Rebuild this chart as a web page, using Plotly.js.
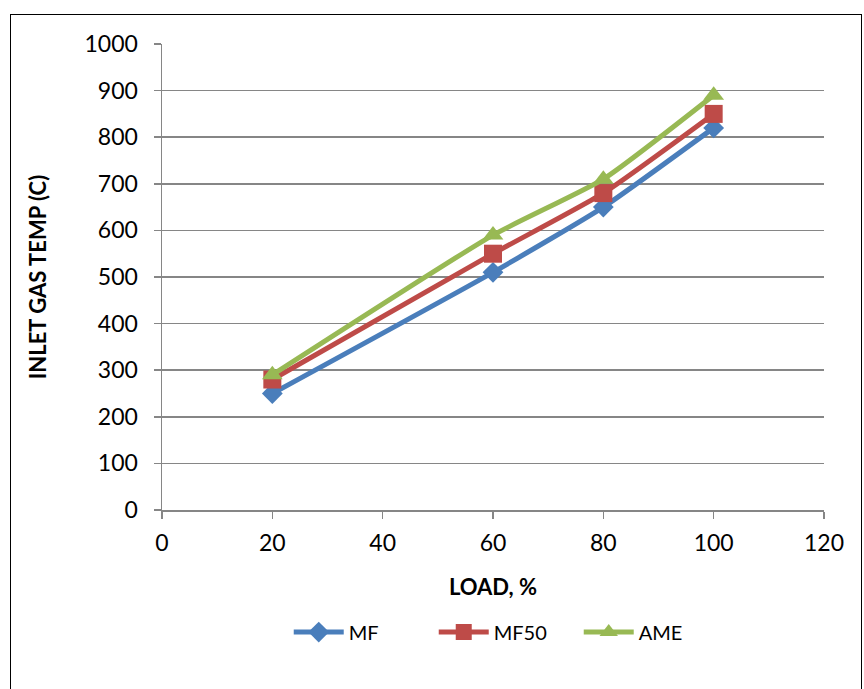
<!DOCTYPE html>
<html>
<head>
<meta charset="utf-8">
<script src="https://cdn.plot.ly/plotly-3.0.1.min.js"></script>
<style>
html,body{margin:0;padding:0;background:#fff;}
#wrap{position:relative;width:864px;height:689px;overflow:hidden;}
#frame{position:absolute;left:10px;top:14px;width:852px;height:700px;border:1px solid #000;box-sizing:border-box;pointer-events:none;}
#chart{position:absolute;left:0;top:0;width:864px;height:689px;}
</style>
</head>
<body>
<div id="wrap">
<div id="chart"></div>
<div id="frame"></div>
</div>
<script>
const load = [20, 60, 80, 100];
const mf = [250, 510, 650, 820];
const mf50 = [280, 550, 680, 850];
const ame = [290, 590, 710, 890];
const seriesNames = ['MF', 'MF50', 'AME'];
const xTicks = [0, 20, 40, 60, 80, 100, 120];
const yTicks = [0, 100, 200, 300, 400, 500, 600, 700, 800, 900, 1000];

const FONT = 'Lato, "Open Sans", "Liberation Sans", sans-serif';
const colors = ['#4A7EBB', '#BE4B48', '#98B954'];
const symbols = ['diamond', 'square', 'triangle-up'];
const sizes = [16, 18, 18];
const data = [mf, mf50, ame].map((ys, i) => ({
  x: load, y: ys, name: seriesNames[i], type: 'scatter', mode: 'lines+markers',
  line: {color: colors[i], width: 5, shape: 'spline', smoothing: 0.5},
  marker: {symbol: symbols[i], size: sizes[i], color: colors[i]}
}));

const layout = {
  width: 864, height: 689,
  margin: {l: 162, r: 40, t: 44, b: 179},
  paper_bgcolor: 'rgba(0,0,0,0)', plot_bgcolor: '#fff',
  font: {family: FONT, color: '#000', size: 23},
  showlegend: true,
  legend: {orientation: 'h', x: 0.52, xanchor: 'center', y: -0.262, yanchor: 'middle',
           font: {family: FONT, size: 20, color: '#000'}, itemwidth: 50,
           entrywidth: 80, entrywidthmode: 'pixels', traceorder: 'normal'},
  xaxis: {
    range: [0, 120], tickvals: xTicks, ticktext: xTicks.map(String),
    showgrid: false, zeroline: false, showline: true, linecolor: '#868686', linewidth: 1.5,
    ticks: 'outside', ticklen: 7, tickcolor: '#868686', tickwidth: 1.5,
    tickfont: {family: FONT, size: 23}, ticklabelstandoff: 5,
    title: {text: '<b>LOAD, %</b>', font: {family: FONT, size: 22}, standoff: 24}
  },
  yaxis: {
    range: [0, 1000], tickvals: yTicks, ticktext: yTicks.map(String),
    showgrid: true, gridcolor: '#868686', gridwidth: 1.5, zeroline: false,
    showline: true, linecolor: '#868686', linewidth: 1.5,
    ticks: 'outside', ticklen: 7, tickcolor: '#868686', tickwidth: 1.5,
    tickfont: {family: FONT, size: 23}, ticklabelstandoff: 11,
    title: {text: '<b>INLET GAS TEMP (C)</b>', font: {family: FONT, size: 22}, standoff: 32}
  }
};
Plotly.newPlot('chart', data, layout, {displayModeBar: false, staticPlot: true});
</script>
</body>
</html>
